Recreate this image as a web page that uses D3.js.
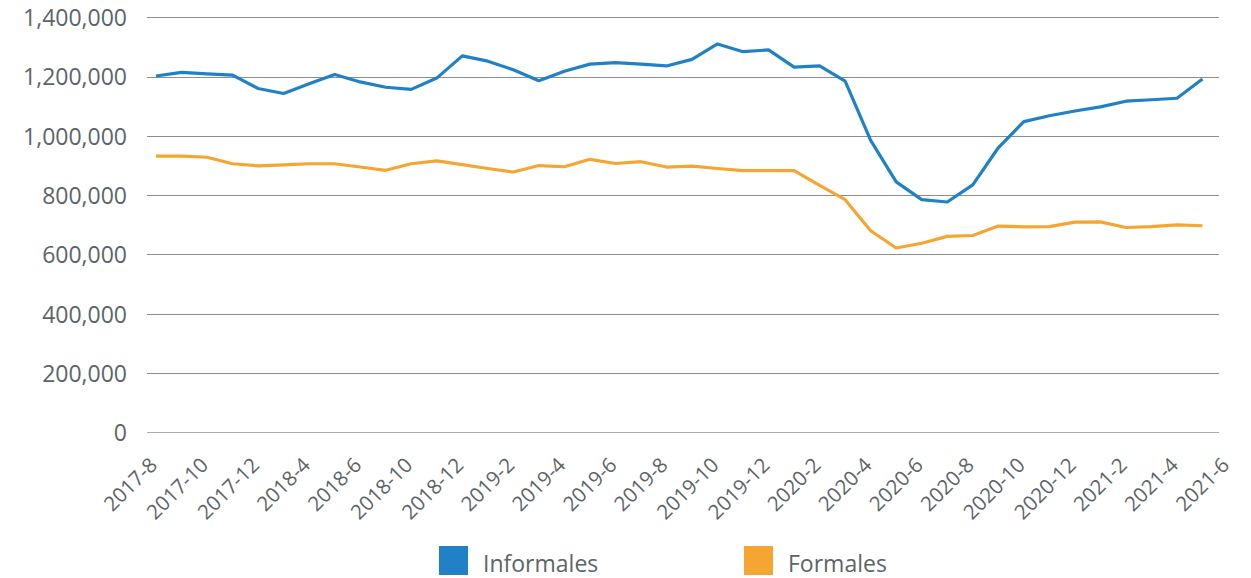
<!DOCTYPE html>
<html>
<head>
<meta charset="utf-8">
<script src="https://cdn.jsdelivr.net/npm/d3@7"></script>
<style>
  body { margin: 0; background: #fff; }
  #chart { width: 1251px; height: 578px; }
  text { font-family: "Open Sans", "Noto Sans", sans-serif; fill: #5b6568; }
</style>
</head>
<body>
<div id="chart"></div>
<script>
// Monthly categories (two months missing in 2018), every other one labelled
const categories = [
  "2017-8", "2017-9", "2017-10", "2017-11", "2017-12", "2018-2", "2018-4", "2018-5", "2018-6", "2018-8",
  "2018-10", "2018-11", "2018-12", "2019-1", "2019-2", "2019-3", "2019-4", "2019-5", "2019-6", "2019-7",
  "2019-8", "2019-9", "2019-10", "2019-11", "2019-12", "2020-1", "2020-2", "2020-3", "2020-4", "2020-5",
  "2020-6", "2020-7", "2020-8", "2020-9", "2020-10", "2020-11", "2020-12", "2021-1", "2021-2", "2021-3",
  "2021-4", "2021-5", "2021-6"
];
const tickLabels = categories.filter((d, i) => i % 2 === 0);

// Values (no value for the last month)
const informales = [
  1202000, 1214000, 1209000, 1205000, 1160000, 1143000, 1176000, 1207000, 1182000, 1164000,
  1157000, 1195000, 1270000, 1252000, 1223000, 1186000, 1218000, 1242000, 1247000, 1242000,
  1236000, 1258000, 1310000, 1284000, 1290000, 1232000, 1236000, 1185000, 985000, 845000,
  785000, 777000, 835000, 960000, 1048000, 1068000, 1084000, 1098000, 1117000, 1122000,
  1127000, 1192000
];
const formales = [
  932000, 932000, 928000, 906000, 899000, 902000, 906000, 906000, 895000, 884000,
  906000, 916000, 903000, 890000, 878000, 900000, 896000, 921000, 907000, 913000,
  895000, 898000, 890000, 883000, 883000, 883000, 833000, 785000, 680000, 622000,
  638000, 661000, 664000, 696000, 693000, 694000, 709000, 710000, 691000, 694000,
  700000, 697000
];
const yTicks = [0, 200000, 400000, 600000, 800000, 1000000, 1200000, 1400000];
const seriesNames = ["Informales", "Formales"];
const colours = ["#2181c7", "#f5a632"];

function drawChart(div) {
    let cvs = d3.select(div);
    cvs.html(null);

    let width = 1251, height = 578;
    let plot = { left: 147, right: 1219, top: 17.3, bottom: 432.4 };

    let svg = cvs.append("svg")
        .attr("width", width)
        .attr("height", height);

    // Scales
    let x = d3.scalePoint()
        .domain(categories)
        .range([156, 1228]);
    let y = d3.scaleLinear()
        .domain([0, 1400000])
        .range([plot.bottom, plot.top]);

    // Horizontal grid lines
    svg.append("g")
        .selectAll("line")
        .data(yTicks)
        .join("line")
            .attr("x1", plot.left)
            .attr("x2", plot.right)
            .attr("y1", d => Math.round(y(d)) + 0.5)
            .attr("y2", d => Math.round(y(d)) + 0.5)
            .attr("stroke", d => d === 0 ? "#a9adae" : "#8a8e90")
            .attr("stroke-width", 1);

    // Y axis labels
    let yAxis = svg.append("g")
        .attr("transform", "translate(127,0)")
        .call(d3.axisLeft(y).tickValues(yTicks).tickFormat(d3.format(",")).tickSize(0).tickPadding(0));
    yAxis.select(".domain").remove();
    yAxis.selectAll("text")
        .style("font-size", "23px")
        .attr("dy", "0.36em")
        .attr("fill", null);

    // X axis labels, rotated
    let xAxis = svg.append("g")
        .attr("transform", "translate(0," + plot.bottom + ")")
        .call(d3.axisBottom(x).tickValues(tickLabels).tickSize(0));
    xAxis.select(".domain").remove();
    xAxis.selectAll("text")
        .attr("x", 0)
        .attr("y", 0)
        .attr("dy", null)
        .attr("fill", null)
        .attr("text-anchor", "end")
        .attr("transform", "translate(2,34) rotate(-45)")
        .style("font-size", "20.5px");

    // Lines
    let series = [informales, formales];
    for ( let i = 0; i < series.length; i++ ) {
        svg.append("path")
            .datum(series[i])
            .attr("fill", "none")
            .attr("stroke", colours[i])
            .attr("stroke-width", 3.2)
            .attr("stroke-linejoin", "round")
            .attr("d", d3.line()
                .x((d, j) => x(categories[j]))
                .y(d => y(d))
            );
    }

    // Legend
    let legendX = [439, 744];
    for ( let i = 0; i < seriesNames.length; i++ ) {
        svg.append("rect")
            .attr("x", legendX[i])
            .attr("y", 546)
            .attr("width", 29)
            .attr("height", 29)
            .attr("fill", colours[i]);
        svg.append("text").text(seriesNames[i])
            .attr("x", legendX[i] + 44)
            .attr("y", 572)
            .style("font-size", "23px");
    }
}

drawChart("#chart");
</script>
</body>
</html>
